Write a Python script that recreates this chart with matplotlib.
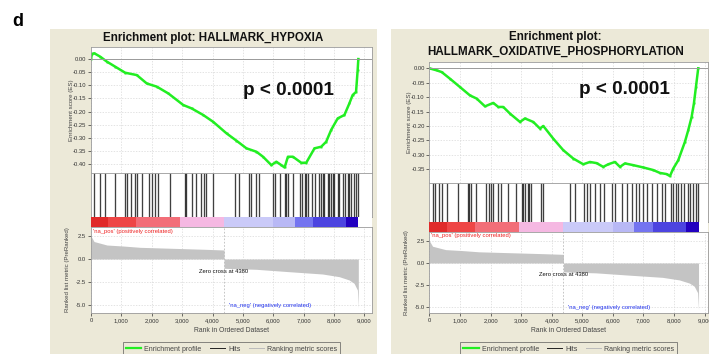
import matplotlib.pyplot as plt
from matplotlib.patches import Rectangle
from matplotlib.lines import Line2D
from matplotlib.ticker import FuncFormatter

plt.rcParams['font.family'] = ['Liberation Sans', 'DejaVu Sans']

W, H = 709, 354
PANEL_BG = '#ece9d8'
ES_GREEN = '#22ee22'
GRID = '#d8d8d8'

# running enrichment score, HALLMARK_HYPOXIA
hyp_rank = [0, 30, 110, 305, 525, 797, 1125, 1508, 1837, 2165, 2546, 3037, 3313, 3693,
            4021, 4461, 4789, 5117, 5445, 5662, 5937, 6101, 6265, 6373, 6482, 6646,
            6921, 7085, 7357, 7577, 7741, 7905, 8121, 8341, 8505, 8613, 8725, 8778, 8800]
hyp_es = [0.0, 0.02, 0.022, 0.009, -0.01, -0.029, -0.052, -0.061, -0.093, -0.105, -0.131,
          -0.175, -0.188, -0.213, -0.239, -0.283, -0.311, -0.340, -0.353, -0.372, -0.404,
          -0.391, -0.404, -0.413, -0.372, -0.372, -0.395, -0.395, -0.340, -0.334, -0.315,
          -0.270, -0.226, -0.213, -0.169, -0.137, -0.125, -0.042, 0.0]
hyp_hits = [108, 284, 467, 795, 1122, 1200, 1318, 1449, 1504, 1668, 1919, 1995, 2103, 2214,
            2593, 3084, 3139, 3335, 3466, 3630, 3705, 3770, 4012, 4742, 4873, 5200, 5265,
            5418, 5526, 5995, 6050, 6213, 6377, 6431, 6485, 6649, 6867, 6943, 7031, 7085,
            7140, 7271, 7358, 7521, 7576, 7630, 7685, 7794, 7848, 7903, 7957, 8012, 8121,
            8175, 8284, 8362, 8447, 8502, 8557, 8665, 8720, 8775]

# running enrichment score, HALLMARK_OXIDATIVE_PHOSPHORYLATION
oxp_rank = [0, 235, 400, 670, 997, 1324, 1543, 1815, 2086, 2250, 2413, 2632, 2959, 3123,
            3394, 3613, 3722, 4048, 4375, 4702, 5029, 5248, 5466, 5683, 5848, 6066, 6230,
            6393, 6664, 6991, 7318, 7537, 7755, 7864, 7973, 8137, 8355, 8463, 8574, 8649,
            8715, 8790]
oxp_es = [0.0, -0.007, -0.013, -0.036, -0.065, -0.094, -0.105, -0.132, -0.120, -0.134,
          -0.134, -0.157, -0.186, -0.174, -0.186, -0.209, -0.200, -0.244, -0.284, -0.313,
          -0.333, -0.325, -0.329, -0.342, -0.333, -0.325, -0.342, -0.330, -0.336, -0.344,
          -0.353, -0.363, -0.367, -0.374, -0.348, -0.319, -0.255, -0.215, -0.169, -0.122,
          -0.065, 0.0]
oxp_hits = [104, 191, 322, 409, 562, 922, 1249, 1301, 1357, 1520, 1848, 1935, 2011, 2066,
            2230, 2338, 2557, 2828, 3025, 3067, 3133, 3211, 3264, 3319, 3646, 3721, 4594,
            4758, 5062, 5141, 5248, 5412, 5575, 5717, 5958, 6066, 6304, 6448, 6612, 6743,
            6851, 6992, 7103, 7286, 7430, 7593, 7701, 7897, 7972, 8051, 8136, 8224, 8332,
            8443, 8519, 8626, 8705, 8770]

# ranked list metric (same ranked list for both gene sets)
zero_cross = 4380
metric_rank = [0, 100, 525, 1070, 1617, 2710, 3800, 4380, 4380, 5440, 6530, 7620, 8170,
               8500, 8660, 8770, 8800]
metric_val = [2.5, 1.9, 1.52, 1.41, 1.27, 1.16, 1.05, 0.98, -1.01, -1.12, -1.38, -1.63,
              -1.92, -2.28, -2.64, -3.37, -5.3]

# heat bar under the hits
bar_edges = [0, 560, 1490, 2930, 4380, 6000, 6700, 7300, 8400, 8800]
bar_colors = ['#e02a2a', '#ee4646', '#f26e78', '#f5b8e2', '#cacaf8', '#b8b8f5',
              '#7474f0', '#4c44e0', '#2200c0']

rank_ticks = [0, 1000, 2000, 3000, 4000, 5000, 6000, 7000, 8000, 9000]


def add_ax(fig, x0, y0, x1, y1):
    return fig.add_axes([x0 / W, 1 - y1 / H, (x1 - x0) / W, (y1 - y0) / H])


def style_ax(ax):
    for s in ax.spines.values():
        s.set_color('#9a9a9a')
        s.set_linewidth(0.6)
    ax.tick_params(labelsize=4.2, colors='#333333', length=2, width=0.5, pad=1.5)


def draw_panel(fig, box, title, title_y, rank, es, hits, es_ticks, es_lim, metric_lim,
               xmax, rows, ptext):
    bx0, by0, bx1 = box
    fig.add_artist(Rectangle((bx0 / W, 0), (bx1 - bx0) / W, 1 - by0 / H,
                             transform=fig.transFigure, facecolor=PANEL_BG,
                             edgecolor='none', zorder=-10))
    x0, x1 = rows[0], rows[1]
    y_es, y_hits, y_bar, y_met, y_bot = rows[2:]
    cx = (bx0 + bx1) / 2

    for i, line in enumerate(title):
        fig.text(cx / W, 1 - (title_y + i * 15) / H, line, ha='center', va='center',
                 fontsize=8.4, fontweight='bold', color='#111111')

    # enrichment score
    ax = add_ax(fig, x0, y_es, x1, y_hits)
    style_ax(ax)
    ax.plot(rank, es, color=ES_GREEN, lw=1.8, marker='s', ms=1.4, mew=0)
    ax.axhline(0, color='#9a9a9a', lw=0.7)
    ax.set_xlim(0, xmax)
    ax.set_ylim(*es_lim)
    ax.set_yticks(es_ticks)
    ax.yaxis.set_major_formatter(FuncFormatter(lambda v, p: f'{v:.2f}'))
    ax.set_xticks(rank_ticks)
    ax.tick_params(axis='x', length=0, labelbottom=False)
    ax.grid(True, color=GRID, lw=0.5, ls=(0, (2, 2)))
    ax.set_axisbelow(True)
    ax.text(ptext[0], ptext[1], 'p < 0.0001', fontsize=13.6, fontweight='bold',
            ha='left', va='center', color='#111111')
    fig.text((x0 - 20) / W, 1 - (y_es + y_hits) / 2 / H, 'Enrichment score (ES)',
             rotation=90, ha='center', va='center', fontsize=4.4, color='#444444')

    # hits
    ax = add_ax(fig, x0, y_hits, x1, y_bar)
    style_ax(ax)
    ax.vlines(hits, 0, 1, color='black', lw=0.95, alpha=0.75)
    ax.set_xlim(0, xmax)
    ax.set_ylim(0, 1)
    ax.set_xticks([])
    ax.set_yticks([])

    # colour bar
    ax = add_ax(fig, x0, y_bar, x1, y_met)
    for a, b, c in zip(bar_edges[:-1], bar_edges[1:], bar_colors):
        ax.axvspan(a, b, color=c, lw=0)
    ax.set_xlim(0, xmax)
    ax.set_xticks([])
    ax.set_yticks([])
    for s in ax.spines.values():
        s.set_visible(False)

    # ranked list metric
    ax = add_ax(fig, x0, y_met, x1, y_bot)
    style_ax(ax)
    ax.fill_between(metric_rank, 0, metric_val, color='#c4c4c4', lw=0)
    ax.axvline(zero_cross, color='#bbbbbb', lw=0.6, ls=(0, (2, 2)))
    ax.set_xlim(0, xmax)
    ax.set_ylim(*metric_lim)
    ax.set_yticks([2.5, 0.0, -2.5, -5.0])
    ax.yaxis.set_major_formatter(FuncFormatter(lambda v, p: f'{v:.1f}'))
    ax.set_xticks(rank_ticks)
    ax.xaxis.set_major_formatter(FuncFormatter(lambda v, p: f'{int(v):,}'))
    ax.grid(True, color=GRID, lw=0.5, ls=(0, (2, 2)))
    ax.set_axisbelow(True)
    ax.text(60, metric_lim[1] - 0.45, "'na_pos' (positively correlated)", color='#ee2222',
            fontsize=4.2, ha='left', va='center')
    ax.text(zero_cross, -1.35, f'Zero cross at {zero_cross}', color='#111111',
            fontsize=4.2, ha='center', va='center')
    ax.text(zero_cross + 150, -5.05, "'na_neg' (negatively correlated)", color='#2233ee',
            fontsize=4.2, ha='left', va='center')
    fig.text((x0 - 23) / W, 1 - (y_met + y_bot) / 2 / H, 'Ranked list metric (PreRanked)',
             rotation=90, ha='center', va='center', fontsize=4.4, color='#444444')
    fig.text((x0 + x1) / 2 / W, 1 - 331 / H, 'Rank in Ordered Dataset', ha='center',
             va='center', fontsize=4.9, color='#444444')

    handles = [Line2D([], [], color=ES_GREEN, lw=1.6),
               Line2D([], [], color='#222222', lw=0.7),
               Line2D([], [], color='#bbbbbb', lw=0.7)]
    leg = fig.legend(handles, ['Enrichment profile', 'Hits', 'Ranking metric scores'],
                     loc='upper center', bbox_to_anchor=((x0 + x1) / 2 / W, 1 - 339 / H),
                     ncol=3, fontsize=5.0, frameon=True, fancybox=False,
                     handlelength=2.2, handletextpad=0.4, columnspacing=1.2,
                     borderpad=0.45)
    leg.get_frame().set_edgecolor('#555555')
    leg.get_frame().set_linewidth(0.6)
    leg.get_frame().set_facecolor(PANEL_BG)
    for t in leg.get_texts():
        t.set_color('#444444')


fig = plt.figure(figsize=(W / 100, H / 100), dpi=100)
fig.patch.set_facecolor('white')
fig.text(18 / W, 1 - 22 / H, 'd', fontsize=13, fontweight='bold', ha='center', va='center')

draw_panel(fig, (50, 29, 377), ['Enrichment plot: HALLMARK_HYPOXIA'], 38,
           hyp_rank, hyp_es, hyp_hits,
           [0.0, -0.05, -0.10, -0.15, -0.20, -0.25, -0.30, -0.35, -0.40],
           (-0.434, 0.046), (-5.87, 3.48), 9250,
           (91, 372, 47, 173, 217, 227, 313), (5000, -0.118))

draw_panel(fig, (391, 29, 720), ['Enrichment plot:', 'HALLMARK_OXIDATIVE_PHOSPHORYLATION'], 37,
           oxp_rank, oxp_es, oxp_hits,
           [0.0, -0.05, -0.10, -0.15, -0.20, -0.25, -0.30, -0.35],
           (-0.398, 0.022), (-5.68, 3.52), 9110,
           (429.5, 708, 62, 183, 222, 232, 313), (4890, -0.073))

fig.savefig('out.png', dpi=100)
